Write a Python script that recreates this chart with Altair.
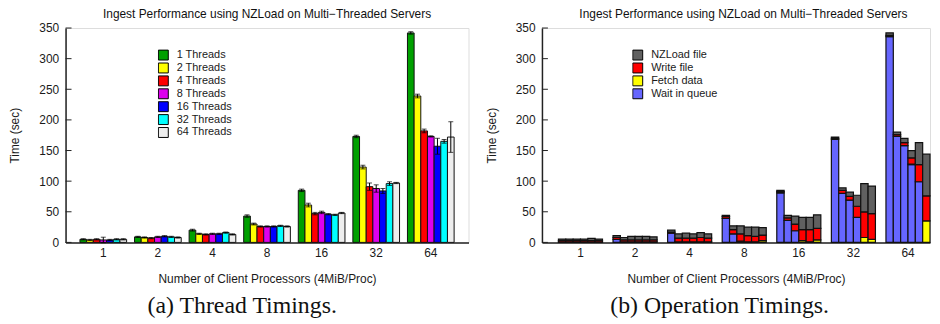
import altair as alt
import pandas as pd

# ---------------- data ----------------
procs = ["1", "2", "4", "8", "16", "32", "64"]
threads = ["1 Threads", "2 Threads", "4 Threads", "8 Threads",
           "16 Threads", "32 Threads", "64 Threads"]
thread_colors = ["#00a000", "#ffff00", "#ff0000", "#dd00ee",
                 "#0000ff", "#00ffff", "#eeeeee"]

# mean ingest time (sec) per thread count, across client processors
t1 = [5, 9, 20, 43, 85, 173, 342]
t2 = [4, 8, 14, 30, 61, 123, 239]
t4 = [5, 7, 13, 26, 47, 91, 182]
t8 = [4, 9, 14, 26, 49, 88, 173]
t16 = [4, 10, 14, 26, 46, 84, 157]
t32 = [5, 9, 16, 27, 45, 96, 165]
t64 = [5, 8, 13, 26, 48, 97, 172]
# error half-widths
e1 = [1, 1, 1.5, 2, 2, 2, 2]
e2 = [1, 1, 1, 1.5, 3, 3, 3]
e4 = [1, 1, 1, 1, 2, 6, 3]
e8 = [4.5, 1, 1, 1, 2, 6, 1]
e16 = [1, 1, 1, 1, 1, 4, 13]
e32 = [1, 1, 1, 1, 1, 3, 3]
e64 = [1, 1, 1, 1, 1, 1, 25]

ops_legend = ["NZLoad file", "Write file", "Fetch data", "Wait in queue"]
op_colors = ["#606060", "#ff0000", "#ffff00", "#6666ff"]
bars6 = ["b1", "b2", "b3", "b4", "b5", "b6"]

# per client-processor group, six bars each
wait_queue = [[0.5, 0.5, 0.5, 0.5, 0.5, 0.5], [5, 1, 1, 1, 1, 1], [15, 1, 1, 1, 1, 1],
              [39, 14, 2, 1, 0, 0], [81, 36, 19, 0, 0, 0], [168, 80, 69, 41, 0, 0],
              [336, 173, 158, 127, 99, 0]]
fetch_data = [[0, 0, 0, 0, 0, 0], [0, 0, 0, 0, 0, 0], [0, 0, 0, 0, 0, 0],
              [0, 0, 0, 0, 1, 3], [0, 0, 0, 3, 1, 4], [0, 0, 0, 0, 8, 5],
              [0, 0, 0, 1, 0, 35]]
write_file = [[2.5, 2.5, 2.5, 2.5, 2.5, 2.5], [3, 3, 3, 3, 3, 3], [2, 6, 6, 6, 7, 6],
              [3, 7, 12, 10, 9, 9], [2, 4, 11, 18, 20, 19], [2, 5, 6, 18, 42, 42],
              [2, 3, 5, 10, 28, 41]]
nzload_file = [[2.5, 2.5, 2.5, 2.5, 3.5, 2.5], [3, 4, 6, 6, 6, 5], [3, 7, 8, 7, 8, 7],
               [2, 6, 13, 14, 15, 12], [2, 4, 13, 20, 20, 22], [2, 4, 7, 18, 46, 45],
               [4, 4, 7, 12, 36, 68]]

yticks = [0, 50, 100, 150, 200, 250, 300, 350]
title_txt = "Ingest Performance using NZLoad on Multi\u2212Threaded Servers"
xtitle = "Number of Client Processors (4MiB/Proc)"
ytitle = "Time (sec)"
cap_a = "(a) Thread Timings."
cap_b = "(b) Operation Timings."

# ---------------- tables ----------------
series_t = [t1, t2, t4, t8, t16, t32, t64]
series_e = [e1, e2, e4, e8, e16, e32, e64]
rows = []
for j, th in enumerate(threads):
    for i, p in enumerate(procs):
        v = series_t[j][i]
        e = series_e[j][i]
        rows.append({"proc": p, "series": th, "time": v, "lo": v - e, "hi": v + e})
df_left = pd.DataFrame(rows)

stack_series = [("Wait in queue", wait_queue), ("Fetch data", fetch_data),
                ("Write file", write_file), ("NZLoad file", nzload_file)]
rows = []
for i, p in enumerate(procs):
    for b, bn in enumerate(bars6):
        base = 0.0
        for k, (name, arr) in enumerate(stack_series):
            v = arr[i][b]
            if v > 0:
                rows.append({"proc": p, "bar": bn, "op": name, "y0": base,
                             "y1": base + v, "k": k})
            base += v
df_right = pd.DataFrame(rows)
df_ticks = pd.DataFrame({"v": yticks})

FONT = "Liberation Sans"
TXT = "#1a1a1a"
H = 216


def yaxis():
    return alt.Axis(values=yticks, title=ytitle, grid=False, ticks=False,
                    labelPadding=7, titlePadding=17, domainColor="#222",
                    domainWidth=1.5, labelFontSize=12, titleFontSize=12,
                    titleFontWeight="normal", labelColor=TXT, titleColor=TXT,
                    labelFont=FONT, titleFont=FONT, labelOverlap=False)


def xaxis():
    return alt.Axis(title=xtitle, labelAngle=0, ticks=False, labelPadding=5,
                    titlePadding=15, domainColor="#222", domainWidth=1.5,
                    labelFontSize=12, titleFontSize=12, titleFontWeight="normal",
                    labelColor=TXT, titleColor=TXT, labelFont=FONT, titleFont=FONT)


def legend(x, y, rowh):
    return alt.Legend(orient="none", legendX=x, legendY=y, title=None,
                      symbolType="square", symbolSize=100, symbolStrokeColor="black",
                      symbolStrokeWidth=1, labelFontSize=11, labelFont=FONT,
                      labelColor=TXT, labelOffset=8, rowPadding=0, padding=0,
                      clipHeight=rowh)


ysc = alt.Scale(domain=[0, 350], nice=False, zero=True)


def Y(field):
    return alt.Y(field, scale=ysc, axis=yaxis())


def text_layer(txt, x, y, size, font):
    return alt.Chart(pd.DataFrame({"t": [txt]})).mark_text(
        font=font, fontSize=size, align="center", baseline="alphabetic",
        color="#111").encode(text="t:N", x=alt.value(x), y=alt.value(y))


# ---------------- left panel ----------------
WL = 406
xl = alt.X("proc:N", sort=procs, axis=xaxis(),
           scale=alt.Scale(paddingInner=0.145, paddingOuter=0.2636))
xol = alt.XOffset("series:N", sort=threads,
                  scale=alt.Scale(paddingInner=0, paddingOuter=0))

bars_l = alt.Chart(df_left).mark_bar(stroke="#111", strokeWidth=1).encode(
    x=xl, xOffset=xol,
    y=Y("time:Q"),
    color=alt.Color("series:N", sort=threads,
                    scale=alt.Scale(domain=threads, range=thread_colors),
                    legend=legend(93, 21, 12.5)),
)
err_l = alt.Chart(df_left).mark_rule(color="black", strokeWidth=1).encode(
    x=xl, xOffset=xol, y=Y("lo:Q"), y2="hi:Q")
cap_hi = alt.Chart(df_left).mark_tick(color="black", thickness=1, size=5).encode(
    x=xl, xOffset=xol, y=Y("hi:Q"))
cap_lo = alt.Chart(df_left).mark_tick(color="black", thickness=1, size=5).encode(
    x=xl, xOffset=xol, y=Y("lo:Q"))
ticks_l = alt.Chart(df_ticks).mark_rule(color="#222", strokeWidth=1).encode(
    y=Y("v:Q"), x=alt.value(0), x2=alt.value(6))

left = alt.layer(
    bars_l, err_l, cap_hi, cap_lo, ticks_l,
    text_layer(title_txt, 203, -10.5, 12, FONT),
    text_layer(cap_a, 178, 287, 24, "Liberation Serif"),
).properties(width=WL, height=H)

# ---------------- right panel ----------------
WR = 391
xr = alt.X("proc:N", sort=procs, axis=xaxis(),
           scale=alt.Scale(paddingInner=0.193, paddingOuter=0.151, align=1))
xor = alt.XOffset("bar:N", sort=bars6,
                  scale=alt.Scale(paddingInner=0, paddingOuter=0))

bars_r = alt.Chart(df_right).mark_bar(stroke="#111", strokeWidth=1.2).encode(
    x=xr, xOffset=xor,
    y=Y("y0:Q"),
    y2="y1:Q",
    color=alt.Color("op:N", sort=ops_legend,
                    scale=alt.Scale(domain=ops_legend, range=op_colors),
                    legend=legend(91, 21, 12.5)),
)
ticks_r = alt.Chart(df_ticks).mark_rule(color="#222", strokeWidth=1).encode(
    y=Y("v:Q"), x=alt.value(0), x2=alt.value(6))

right = alt.layer(
    bars_r, ticks_r,
    text_layer(title_txt, 203, -10.5, 12, FONT),
    text_layer(cap_b, 179, 287, 24, "Liberation Serif"),
).properties(width=WR, height=H)

chart = alt.hconcat(left, right, spacing=15).resolve_scale(
    x="independent", y="independent", color="independent", xOffset="independent"
).properties(
    padding={"left": 0, "top": -2, "right": 0, "bottom": 0}
).configure_view(stroke=None).configure(font=FONT)

chart.save("out.html", embed_options={"renderer": "svg", "actions": False})
